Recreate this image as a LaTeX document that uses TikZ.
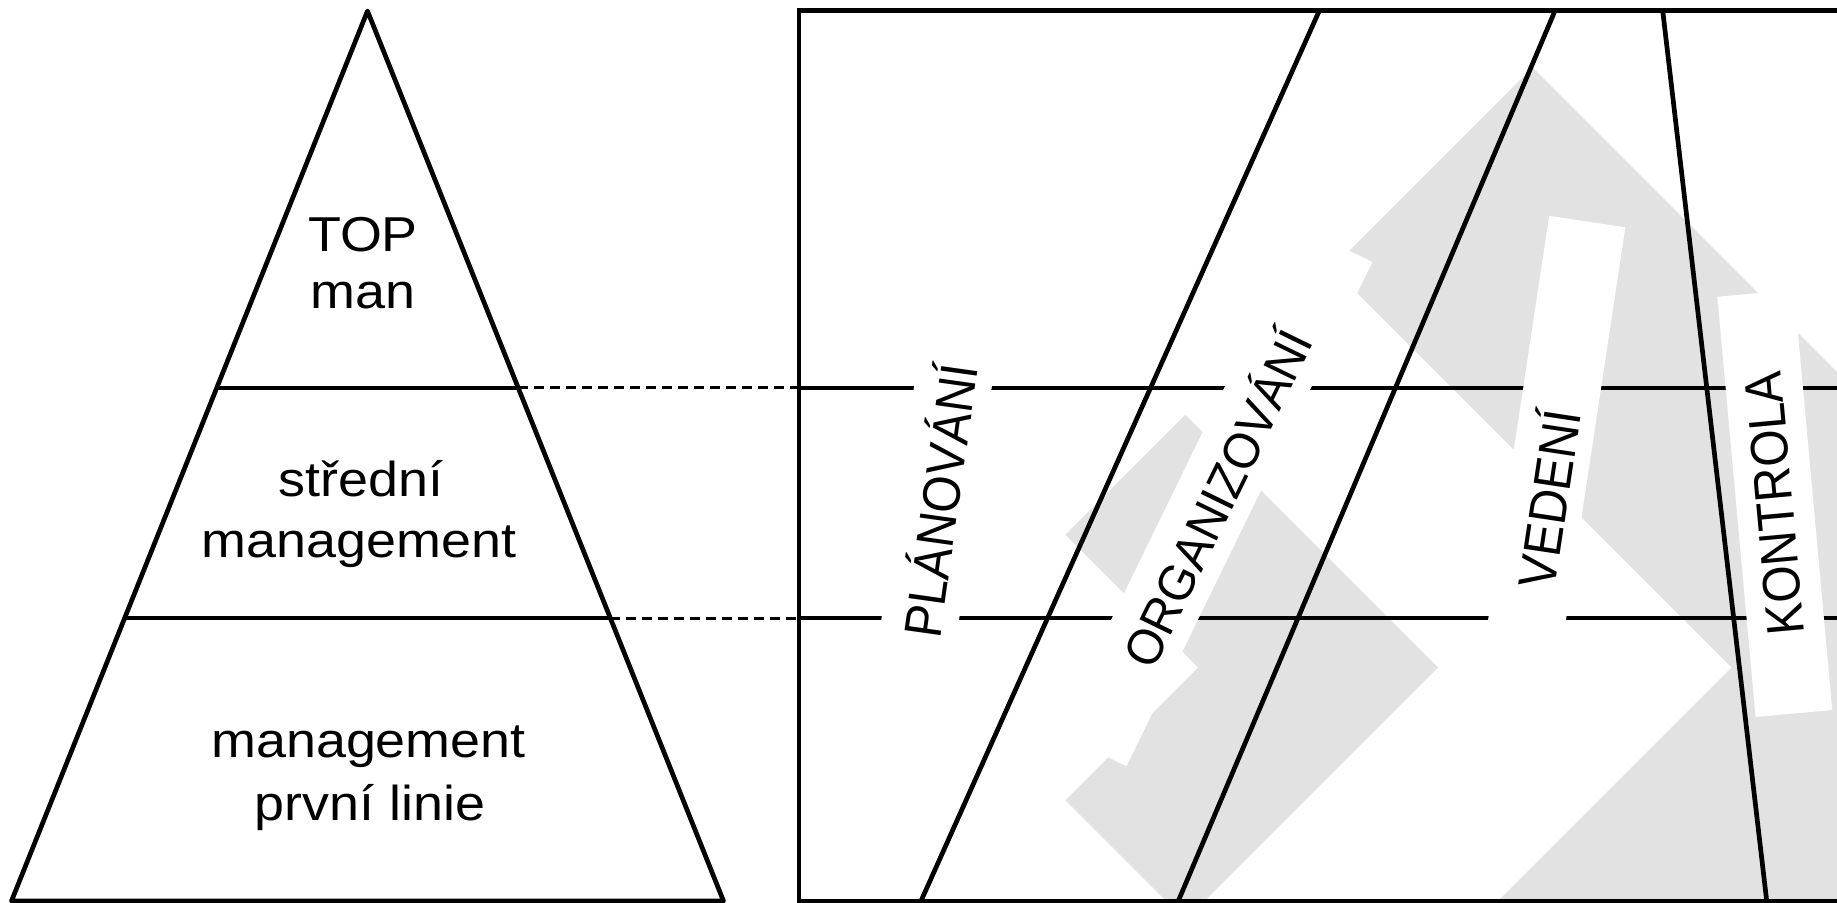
\documentclass[tikz,border=0pt]{standalone}
\usepackage{graphicx}
\usepackage{fontspec}
\setmainfont{Liberation Sans}
\definecolor{shade}{RGB}{225,226,225}
\newcommand{\hstretch}[1]{\scalebox{1.1}[1]{#1}}
\newcommand{\vstretch}[2]{\scalebox{1}[#1]{#2}}
\begin{document}
\begin{tikzpicture}[x=0.5pt,y=-0.5pt,
  solidline/.style={line width=2.35pt, black},
  dashline/.style={line width=1.5pt, black, dash pattern=on 5pt off 3pt},
  pyrtext/.style={anchor=base, inner sep=0pt, font=\fontsize{24.5}{29}\selectfont},
  funcbox/.style={fill=white, inner sep=0pt, font=\fontsize{24}{29}\selectfont, minimum height=38.5pt},
  chevron/.style={fill=shade}
]
\useasboundingbox (0,0) rectangle (1837,903);

% gray chevrons
\begin{scope}
\clip (799,10.7) rectangle (1837,901);
\fill[chevron] (1185.25,414.75) -- (1438,667.5) -- (1185.25,920.25) -- (1065.25,800.25) -- (1198,667.5) -- (1065.25,534.75) -- cycle;
\fill[chevron] (1532.5,67.5) -- (2132.5,667.5) -- (1532.5,1267.5) -- (1332,1067) -- (1731.5,667.5) -- (1332,268) -- cycle;
\end{scope}

% pyramid
\coordinate (apex) at (367.5,11);
\coordinate (bl) at (11.5,901);
\coordinate (br) at (723.5,901);
\coordinate (l1l) at (216.6,388);
\coordinate (l1r) at (518.4,388);
\coordinate (l2l) at (124.7,618);
\coordinate (l2r) at (610.3,618);
\draw[solidline, line join=round] (apex) -- (bl) -- (br) -- cycle;
\draw[solidline] (l1l) -- (l1r);
\draw[solidline] (l2l) -- (l2r);

% frame
\coordinate (ftl) at (799,10.7);
\coordinate (fbl) at (799,901);
\coordinate (ftr) at (1845,10.7);
\coordinate (fbr) at (1845,901);
\coordinate (f1) at (799,388);
\coordinate (f2) at (799,618);
\coordinate (f1r) at (1845,388);
\coordinate (f2r) at (1845,618);
\draw[dashline] (l1r) -- (f1);
\draw[dashline] (l2r) -- (f2);
\draw[solidline] (ftr) -- (ftl) -- (fbl) -- (fbr);
\draw[solidline] (f1) -- (f1r);
\draw[solidline] (f2) -- (f2r);

% slanted dividers
\coordinate (a1) at (1319.3,10.7);
\coordinate (a2) at (921,901);
\coordinate (b1) at (1555,10.7);
\coordinate (b2) at (1178.3,901);
\coordinate (c1) at (1662.7,10.7);
\coordinate (c2) at (1766.7,901);
\draw[solidline] (a1) -- (a2);
\draw[solidline] (b1) -- (b2);
\draw[solidline] (c1) -- (c2);

% function labels
\node[funcbox, rotate=82, minimum width=211pt] (plan) at (937,500) {\vstretch{1.1}{PLÁNOVÁNÍ}};
\node[funcbox, rotate=64, minimum width=280.5pt, minimum height=39pt] (org) at (1214.4,497) {\vstretch{1.05}{ORGANIZOVÁNÍ}};
\node[funcbox, rotate=81.4, minimum width=280pt] (ved) at (1545.4,498.4) {\vstretch{1.1}{VEDENÍ}};
\node[funcbox, rotate=95.2, minimum width=211pt] (kon) at (1774.8,503.4) {\vstretch{1.1}{KONTROLA}};

% pyramid labels
\node[pyrtext] (t1) at (363,252) {\hstretch{TOP}};
\node[pyrtext] (t2) at (363,309) {\hstretch{man}};
\node[pyrtext] (t3) at (360.7,496) {\hstretch{střední}};
\node[pyrtext] (t4) at (359,558) {\hstretch{management}};
\node[pyrtext] (t5) at (368.5,757) {\hstretch{management}};
\node[pyrtext] (t6) at (370,820) {\hstretch{první linie}};
\end{tikzpicture}
\end{document}
